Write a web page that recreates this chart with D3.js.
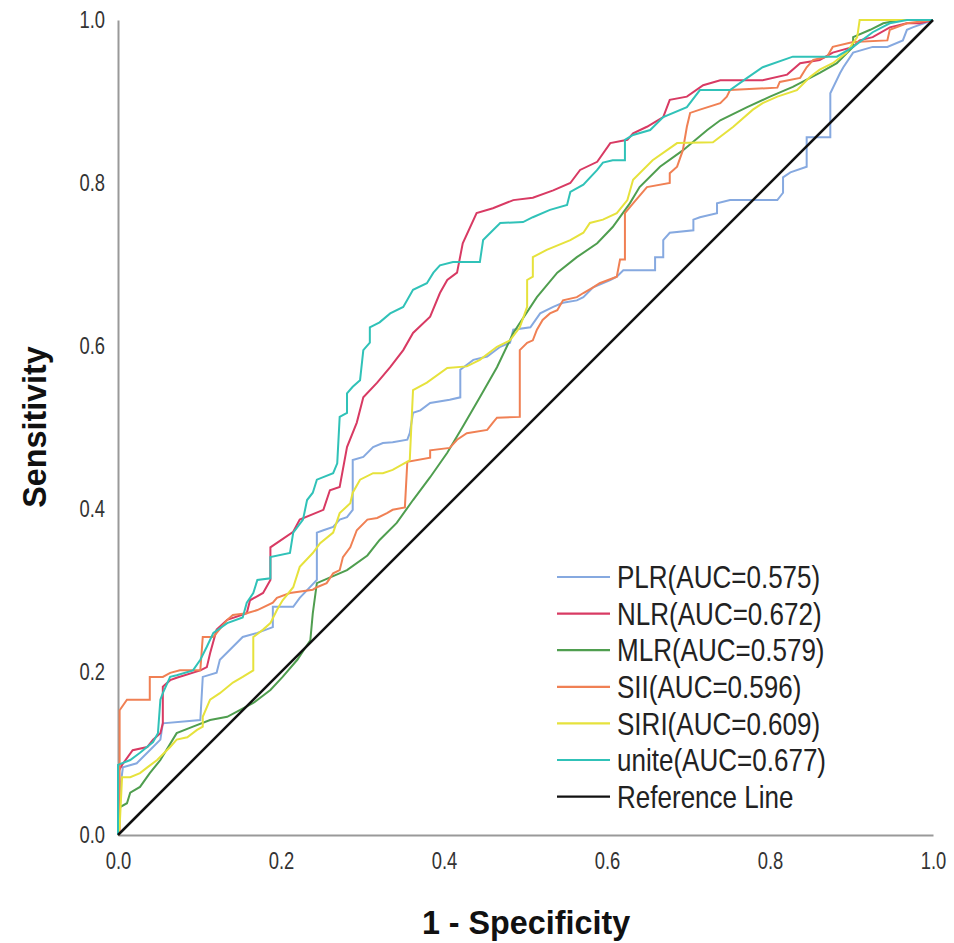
<!DOCTYPE html>
<html>
<head>
<meta charset="utf-8">
<script src="https://cdn.jsdelivr.net/npm/d3@7"></script>
<style>
  html, body { margin: 0; padding: 0; background: #fff; }
  svg { display: block; }
  text { font-family: "Liberation Sans", Arial, sans-serif; }
</style>
</head>
<body>
<svg id="chart" width="954" height="943"></svg>
<script>
// ---- Data (1 - Specificity, Sensitivity) ----
const seriesNames = ["PLR", "NLR", "MLR", "SII", "SIRI", "unite"];
const aucValues = ["0.575", "0.672", "0.579", "0.596", "0.609", "0.677"];
const xTickLabels = ["0.0", "0.2", "0.4", "0.6", "0.8", "1.0"];
const yTickLabels = ["0.0", "0.2", "0.4", "0.6", "0.8", "1.0"];

const plrROC = [[0,0],[0.002,0.052],[0.006,0.083],[0.023,0.088],[0.039,0.104],[0.052,0.117],[0.055,0.137],[0.101,0.141],[0.104,0.194],[0.121,0.199],[0.125,0.215],[0.141,0.231],[0.153,0.243],[0.171,0.248],[0.190,0.255],[0.190,0.280],[0.215,0.280],[0.223,0.291],[0.244,0.313],[0.244,0.371],[0.252,0.374],[0.264,0.378],[0.272,0.387],[0.281,0.390],[0.288,0.399],[0.288,0.460],[0.301,0.464],[0.313,0.476],[0.325,0.481],[0.337,0.482],[0.355,0.485],[0.358,0.493],[0.362,0.518],[0.371,0.521],[0.383,0.530],[0.407,0.534],[0.420,0.537],[0.420,0.571],[0.436,0.583],[0.453,0.587],[0.469,0.599],[0.481,0.604],[0.485,0.620],[0.506,0.623],[0.518,0.640],[0.534,0.648],[0.546,0.653],[0.563,0.656],[0.571,0.660],[0.583,0.672],[0.604,0.681],[0.612,0.685],[0.620,0.693],[0.659,0.693],[0.659,0.709],[0.669,0.709],[0.669,0.730],[0.677,0.739],[0.706,0.742],[0.706,0.755],[0.714,0.758],[0.735,0.763],[0.735,0.775],[0.751,0.779],[0.809,0.779],[0.816,0.788],[0.816,0.807],[0.825,0.813],[0.845,0.820],[0.845,0.856],[0.874,0.856],[0.874,0.910],[0.886,0.935],[0.890,0.942],[0.902,0.960],[0.926,0.967],[0.944,0.967],[0.963,0.975],[0.968,0.988],[0.975,0.991],[1,1]];

const nlrROC = [[0,0],[0,0.077],[0.005,0.086],[0.018,0.104],[0.036,0.108],[0.043,0.117],[0.052,0.125],[0.055,0.137],[0.055,0.182],[0.064,0.190],[0.072,0.193],[0.101,0.202],[0.109,0.206],[0.113,0.223],[0.121,0.252],[0.134,0.264],[0.158,0.272],[0.162,0.288],[0.178,0.297],[0.187,0.313],[0.187,0.353],[0.215,0.372],[0.223,0.387],[0.252,0.399],[0.260,0.423],[0.272,0.427],[0.281,0.476],[0.293,0.506],[0.301,0.537],[0.318,0.555],[0.334,0.574],[0.350,0.595],[0.362,0.616],[0.383,0.636],[0.395,0.665],[0.404,0.681],[0.416,0.690],[0.423,0.726],[0.440,0.763],[0.460,0.769],[0.485,0.779],[0.509,0.782],[0.534,0.791],[0.555,0.800],[0.567,0.816],[0.588,0.826],[0.604,0.849],[0.625,0.853],[0.632,0.861],[0.649,0.869],[0.669,0.881],[0.677,0.902],[0.698,0.906],[0.718,0.920],[0.739,0.926],[0.791,0.926],[0.821,0.933],[0.837,0.947],[0.861,0.951],[0.877,0.960],[0.902,0.967],[0.910,0.975],[0.926,0.979],[0.947,0.991],[0.968,0.996],[0.984,0.996],[1,1]];

const mlrROC = [[0,0],[0,0.031],[0.002,0.034],[0.011,0.039],[0.015,0.052],[0.027,0.059],[0.039,0.076],[0.052,0.092],[0.072,0.125],[0.092,0.133],[0.113,0.141],[0.134,0.145],[0.166,0.162],[0.187,0.178],[0.202,0.194],[0.220,0.215],[0.236,0.239],[0.239,0.272],[0.244,0.309],[0.281,0.325],[0.306,0.343],[0.321,0.362],[0.342,0.383],[0.362,0.411],[0.383,0.439],[0.404,0.469],[0.423,0.501],[0.444,0.537],[0.465,0.574],[0.485,0.616],[0.514,0.660],[0.539,0.690],[0.563,0.709],[0.588,0.726],[0.607,0.746],[0.628,0.775],[0.640,0.795],[0.665,0.820],[0.693,0.840],[0.723,0.865],[0.739,0.877],[0.772,0.893],[0.800,0.906],[0.828,0.918],[0.861,0.935],[0.882,0.947],[0.902,0.967],[0.902,0.979],[0.923,0.988],[0.939,0.996],[0.960,1.0],[1,1]];

const siiROC = [[0,0],[0.002,0.002],[0.002,0.153],[0.011,0.166],[0.039,0.166],[0.039,0.194],[0.055,0.194],[0.064,0.199],[0.076,0.202],[0.101,0.202],[0.104,0.243],[0.117,0.243],[0.134,0.264],[0.141,0.270],[0.158,0.272],[0.171,0.276],[0.190,0.285],[0.195,0.291],[0.211,0.297],[0.239,0.301],[0.244,0.304],[0.256,0.309],[0.264,0.321],[0.272,0.325],[0.276,0.341],[0.285,0.353],[0.293,0.374],[0.306,0.387],[0.318,0.389],[0.330,0.395],[0.337,0.399],[0.352,0.402],[0.355,0.458],[0.383,0.463],[0.383,0.472],[0.407,0.475],[0.416,0.485],[0.428,0.493],[0.453,0.497],[0.460,0.506],[0.465,0.512],[0.493,0.513],[0.493,0.595],[0.502,0.604],[0.509,0.607],[0.514,0.620],[0.521,0.632],[0.530,0.640],[0.539,0.644],[0.546,0.656],[0.563,0.660],[0.571,0.665],[0.583,0.672],[0.591,0.677],[0.612,0.685],[0.616,0.706],[0.622,0.706],[0.622,0.763],[0.632,0.775],[0.649,0.795],[0.677,0.800],[0.677,0.812],[0.686,0.820],[0.693,0.840],[0.698,0.869],[0.702,0.886],[0.714,0.890],[0.739,0.898],[0.747,0.906],[0.751,0.914],[0.809,0.917],[0.812,0.924],[0.837,0.929],[0.845,0.942],[0.853,0.951],[0.870,0.955],[0.877,0.967],[0.902,0.973],[0.944,0.975],[0.947,0.988],[0.968,0.996],[1,1]];

const siriROC = [[0,0],[0.002,0.010],[0.005,0.071],[0.015,0.071],[0.027,0.076],[0.036,0.083],[0.048,0.092],[0.064,0.108],[0.072,0.117],[0.085,0.120],[0.097,0.129],[0.104,0.133],[0.104,0.145],[0.113,0.166],[0.125,0.174],[0.141,0.187],[0.153,0.194],[0.166,0.202],[0.166,0.243],[0.178,0.252],[0.187,0.260],[0.195,0.276],[0.202,0.288],[0.215,0.304],[0.223,0.329],[0.239,0.346],[0.248,0.358],[0.264,0.371],[0.272,0.395],[0.285,0.407],[0.288,0.420],[0.297,0.436],[0.313,0.444],[0.325,0.444],[0.337,0.448],[0.355,0.458],[0.358,0.460],[0.362,0.546],[0.379,0.555],[0.404,0.573],[0.428,0.575],[0.444,0.583],[0.465,0.599],[0.481,0.607],[0.493,0.623],[0.502,0.648],[0.502,0.681],[0.509,0.685],[0.509,0.709],[0.526,0.718],[0.555,0.730],[0.571,0.739],[0.579,0.751],[0.595,0.755],[0.612,0.763],[0.625,0.779],[0.632,0.804],[0.656,0.828],[0.686,0.849],[0.730,0.850],[0.755,0.869],[0.779,0.890],[0.791,0.898],[0.809,0.906],[0.833,0.914],[0.849,0.930],[0.861,0.939],[0.877,0.947],[0.894,0.960],[0.902,0.972],[0.907,0.979],[0.910,1.0],[1,1]];

const uniteROC = [[0,0],[0,0.086],[0.015,0.092],[0.027,0.101],[0.043,0.114],[0.049,0.125],[0.052,0.166],[0.055,0.174],[0.064,0.194],[0.072,0.196],[0.092,0.202],[0.101,0.215],[0.109,0.231],[0.117,0.248],[0.134,0.260],[0.153,0.267],[0.158,0.285],[0.166,0.297],[0.171,0.313],[0.187,0.315],[0.187,0.341],[0.211,0.346],[0.215,0.371],[0.227,0.387],[0.232,0.411],[0.239,0.420],[0.244,0.436],[0.264,0.444],[0.269,0.456],[0.272,0.513],[0.281,0.518],[0.281,0.542],[0.288,0.550],[0.297,0.558],[0.301,0.595],[0.309,0.604],[0.309,0.623],[0.321,0.629],[0.334,0.640],[0.350,0.648],[0.362,0.669],[0.379,0.677],[0.387,0.690],[0.395,0.699],[0.411,0.703],[0.444,0.703],[0.448,0.730],[0.460,0.742],[0.469,0.751],[0.497,0.752],[0.509,0.758],[0.530,0.767],[0.551,0.773],[0.555,0.789],[0.571,0.798],[0.588,0.816],[0.595,0.825],[0.607,0.828],[0.622,0.828],[0.622,0.853],[0.632,0.859],[0.653,0.865],[0.669,0.881],[0.698,0.893],[0.714,0.914],[0.751,0.914],[0.772,0.929],[0.791,0.942],[0.828,0.955],[0.882,0.955],[0.902,0.967],[0.926,0.985],[0.947,0.996],[0.968,1.0],[1,1]];

const referenceLine = [[0,0],[1,1]];
const seriesColors = ["#86a9e0", "#d83a63", "#4f9e4f", "#f08054", "#e6e23c", "#30c2b8"];

// ---- Layout ----
const svg = d3.select("#chart");
const x = d3.scaleLinear().domain([0, 1]).range([118, 933]);
const y = d3.scaleLinear().domain([0, 1]).range([835, 20]);

const TICK_SX = 0.8, LEG_SX = 0.84, TITLE_SX = 0.95;

// axes
const xAxis = d3.axisBottom(x).tickValues(d3.range(xTickLabels.length).map(i => i / (xTickLabels.length - 1)))
  .tickFormat((d, i) => xTickLabels[i]).tickSize(0).tickPadding(18);
const yAxis = d3.axisLeft(y).tickValues(d3.range(yTickLabels.length).map(i => i / (yTickLabels.length - 1)))
  .tickFormat((d, i) => yTickLabels[i]).tickSize(0).tickPadding(13);

const gx = svg.append("g").attr("transform", `translate(0,${y(0)})`).call(xAxis);
const gy = svg.append("g").attr("transform", `translate(${x(0)},0)`).call(yAxis);

[gx, gy].forEach(g => {
  g.select(".domain").attr("stroke", "#999").attr("stroke-width", 2);
  g.selectAll("text").attr("font-size", 23).attr("fill", "#333")
    .attr("font-family", "'Liberation Sans', Arial, sans-serif");
});
gx.selectAll("text").attr("transform", `scale(${TICK_SX},1)`);
gy.selectAll("text").each(function() {
  const t = d3.select(this);
  t.attr("x", +t.attr("x") / TICK_SX).attr("transform", `scale(${TICK_SX},1)`);
});

// curves
const line = d3.line().x(d => x(d[0])).y(d => y(d[1]));
const allSeries = [plrROC, nlrROC, mlrROC, siiROC, siriROC, uniteROC];
svg.append("g").selectAll("path").data(allSeries).join("path")
  .attr("d", line).attr("fill", "none")
  .attr("stroke", (d, i) => seriesColors[i]).attr("stroke-width", 2)
  .attr("stroke-linejoin", "miter");

svg.append("path").datum(referenceLine).attr("d", line)
  .attr("fill", "none").attr("stroke", "#111").attr("stroke-width", 2.5);

// titles
svg.append("text")
  .attr("transform", `translate(526,934) scale(${TITLE_SX},1)`)
  .attr("text-anchor", "middle").attr("font-size", 34).attr("font-weight", "bold")
  .attr("fill", "#111").text("1 - Specificity");
svg.append("text")
  .attr("transform", `translate(46,427) rotate(-90) scale(${TITLE_SX},1)`)
  .attr("text-anchor", "middle").attr("font-size", 34).attr("font-weight", "bold")
  .attr("fill", "#111").text("Sensitivity");

// legend
const legendItems = seriesNames.map((n, i) => ({ label: `${n}(AUC=${aucValues[i]})`, color: seriesColors[i] }))
  .concat([{ label: "Reference Line", color: "#111" }]);
const lg = svg.append("g");
legendItems.forEach((d, i) => {
  const cy = 577 + i * 36.6;
  lg.append("line").attr("x1", 557).attr("x2", 610).attr("y1", cy).attr("y2", cy)
    .attr("stroke", d.color).attr("stroke-width", 2.2);
  lg.append("text").attr("transform", `translate(617,${cy}) scale(${LEG_SX},1)`)
    .attr("dy", "0.36em").attr("font-size", 31).attr("fill", "#222").text(d.label);
});
</script>
</body>
</html>
